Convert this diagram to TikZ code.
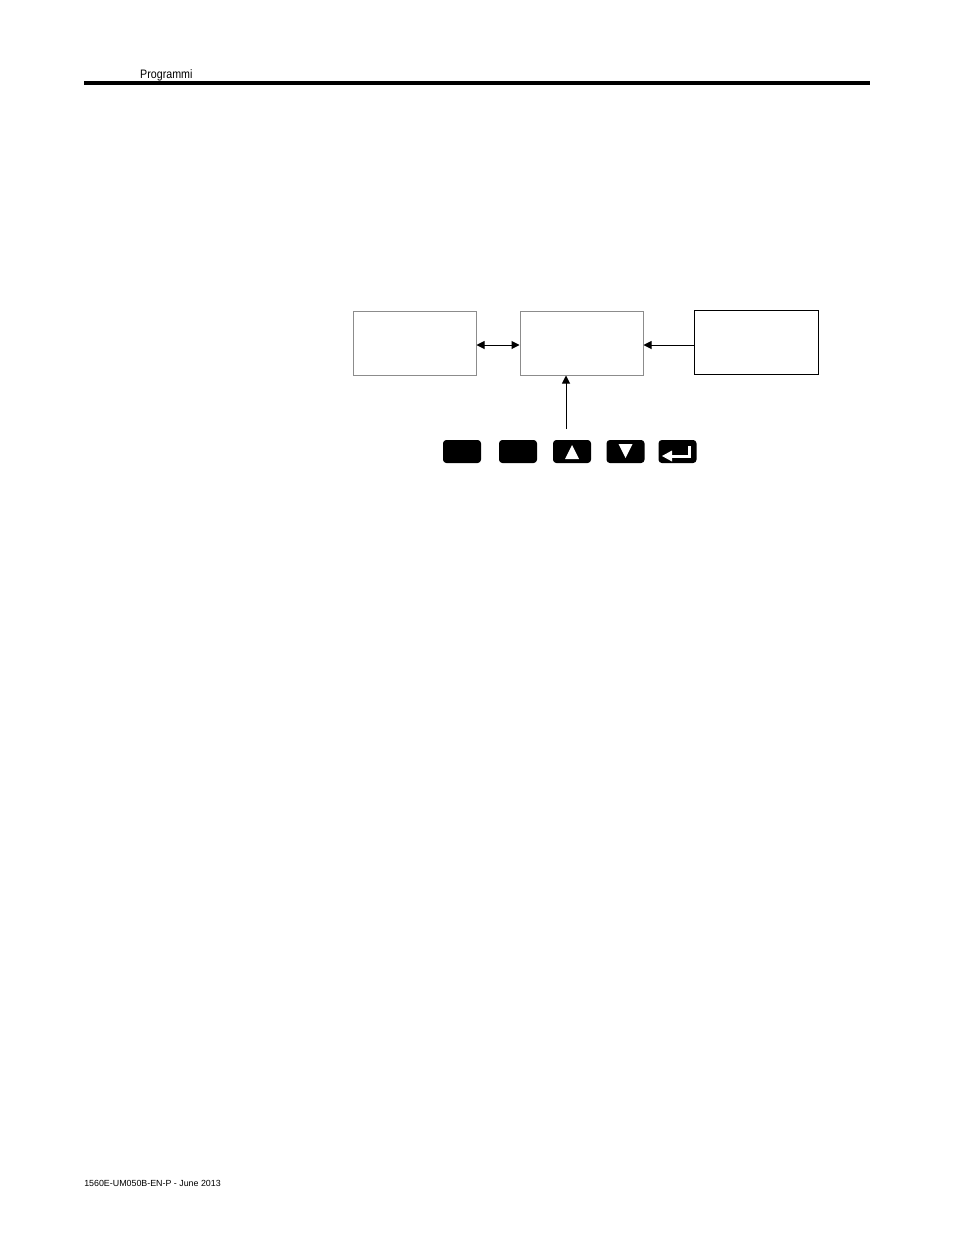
\documentclass[tikz,border=0pt]{standalone}
\usepackage{fontspec}
\setmainfont{Liberation Sans}
\usetikzlibrary{arrows.meta}
\begin{document}
\begin{tikzpicture}[x=0.75pt,y=-0.75pt,
  graybox/.style={draw=black!45,line width=0.75pt,minimum width=123*0.75pt,minimum height=64*0.75pt,inner sep=0pt},
  blackbox/.style={draw=black,line width=0.75pt,minimum width=124*0.75pt,minimum height=64*0.75pt,inner sep=0pt},
  keybox/.style={fill=black,rounded corners=2.5pt,minimum width=38*0.75pt,minimum height=23*0.75pt,inner sep=0pt},
  conn/.style={line width=0.75pt,-{Triangle[length=6pt,width=6pt]}},
  lbl/.style={inner sep=0pt,anchor=base west}]
\useasboundingbox (0,0) rectangle (954,1235);
\fill[white] (0,0) rectangle (954,1235);
% header
\node[lbl,font=\fontsize{9.2}{10}\selectfont,xscale=0.87] (hdr) at (140,78) {Programmi};
\coordinate (hl) at (84,83);
\coordinate (hr) at (870,83);
\draw[line width=2.4pt] (hl) -- (hr);
% boxes
\node[graybox] (b1) at (414.5,343) {};
\node[graybox] (b2) at (581.5,343) {};
\node[blackbox] (b3) at (756,342) {};
% keys
\node[keybox] (k1) at (462,451.5) {};
\node[keybox] (k2) at (518,451.5) {};
\node[keybox] (k3) at (572,451.5) {};
\node[keybox] (k4) at (625.5,451.5) {};
\node[keybox] (k5) at (677.5,451.5) {};
\fill[white] (565,459) -- (579,459) -- (572,445) -- cycle;
\fill[white] (618.5,444) -- (632.5,444) -- (625.5,458) -- cycle;
\fill[white] (687.5,446) rectangle (690.5,458);
\fill[white] (670,454.5) rectangle (690.5,457.5);
\fill[white] (662,456) -- (672,450.5) -- (672,461.5) -- cycle;
% connectors
\draw[line width=0.75pt,{Triangle[length=6pt,width=6pt]}-{Triangle[length=6pt,width=6pt]}] (b1.east |- 0,345) -- (b2.west |- 0,345);
\draw[conn] (b3.west |- 0,345) -- (b2.east |- 0,345);
\coordinate (src) at (566,429);
\draw[conn] (src) -- (src |- b2.south);
% footer
\node[lbl,font=\fontsize{6.65}{8}\selectfont] (ftr) at (84,1186) {1560E-UM050B-EN-P - June 2013};
\end{tikzpicture}
\end{document}
